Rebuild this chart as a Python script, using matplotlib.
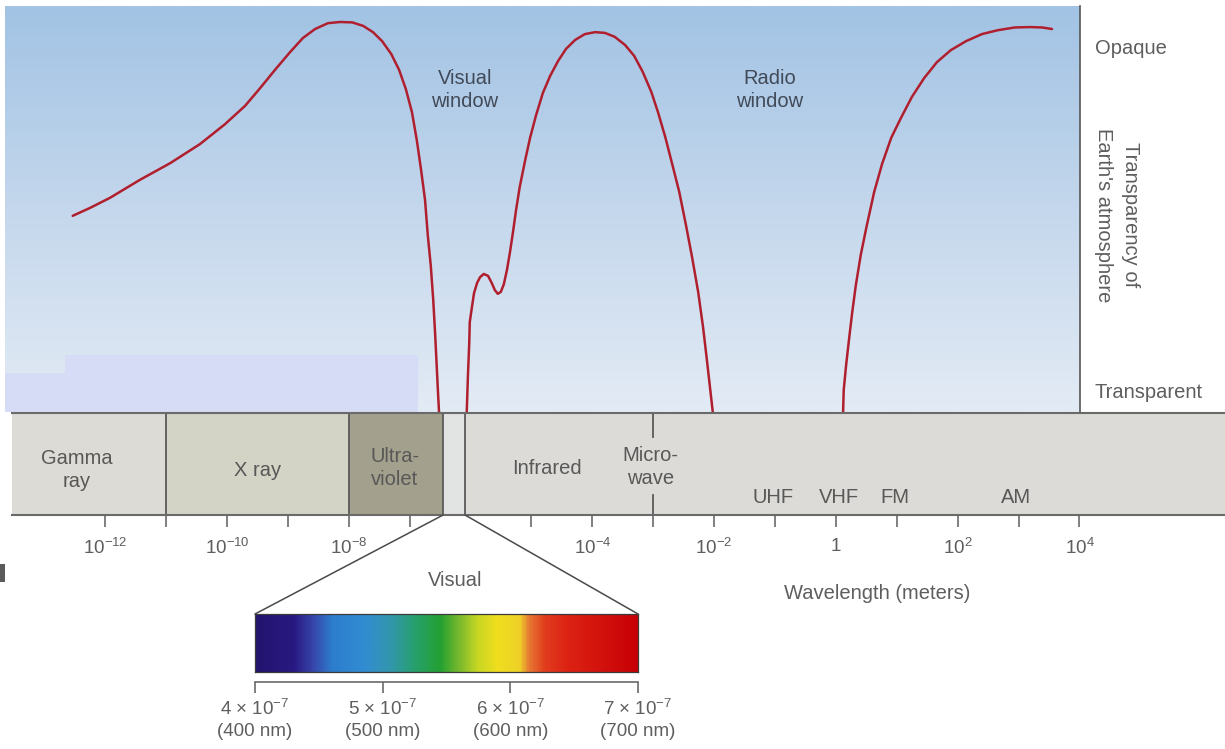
import numpy as np
import matplotlib
matplotlib.use('Agg')
import matplotlib.pyplot as plt
from matplotlib.colors import LinearSegmentedColormap
from matplotlib.patches import ConnectionPatch, Rectangle

plt.rcParams['font.family'] = ['Liberation Sans', 'DejaVu Sans']
plt.rcParams['mathtext.fontset'] = 'custom'
plt.rcParams['mathtext.rm'] = 'Liberation Sans'
plt.rcParams['mathtext.it'] = 'Liberation Sans:italic'
plt.rcParams['mathtext.bf'] = 'Liberation Sans:bold'

# Opacity of the atmosphere (1 = opaque, 0 = transparent) vs log10(wavelength / m)
# gamma / x ray / UV part
short_logw = [-12.53, -12.25, -11.92, -11.43, -10.93, -10.44, -10.03, -9.70, -9.45, -9.21,
              -8.96, -8.75, -8.55, -8.34, -8.14, -7.94, -7.76, -7.60, -7.45, -7.30,
              -7.17, -7.06, -6.96, -6.88, -6.81, -6.745, -6.70, -6.65, -6.61, -6.58,
              -6.55, -6.53, -6.515]
short_opac = [0.503, 0.523, 0.549, 0.595, 0.638, 0.687, 0.738, 0.785, 0.831, 0.877,
              0.923, 0.959, 0.982, 0.997, 1.000, 0.999, 0.990, 0.974, 0.951, 0.918,
              0.877, 0.828, 0.769, 0.697, 0.621, 0.544, 0.454, 0.374, 0.287, 0.203,
              0.108, 0.044, 0.0]
# infrared / microwave part
ir_logw = [-6.06, -6.04, -6.02, -6.01, -5.97, -5.94, -5.89, -5.84, -5.78, -5.71,
           -5.65, -5.60, -5.55, -5.50, -5.45, -5.40, -5.35, -5.30, -5.25, -5.19,
           -5.10, -5.02, -4.92, -4.81, -4.69, -4.56, -4.43, -4.28, -4.12, -3.95,
           -3.79, -3.63, -3.46, -3.31, -3.17, -3.03, -2.92, -2.80, -2.69, -2.57,
           -2.46, -2.36, -2.26, -2.18, -2.12, -2.07, -2.02]
ir_opac = [0.0, 0.095, 0.172, 0.231, 0.274, 0.305, 0.331, 0.346, 0.354, 0.349,
           0.331, 0.313, 0.303, 0.308, 0.328, 0.364, 0.410, 0.462, 0.518, 0.577,
           0.646, 0.703, 0.762, 0.818, 0.862, 0.900, 0.931, 0.954, 0.969, 0.974,
           0.972, 0.962, 0.941, 0.913, 0.872, 0.821, 0.769, 0.705, 0.638, 0.564,
           0.479, 0.397, 0.308, 0.218, 0.138, 0.069, 0.0]
# long radio part
radio_logw = [0.12, 0.13, 0.17, 0.22, 0.27, 0.33, 0.41, 0.51, 0.63, 0.76,
              0.91, 1.07, 1.25, 1.45, 1.66, 1.89, 2.14, 2.40, 2.66, 2.94,
              3.19, 3.39, 3.55]
radio_opac = [0.0, 0.056, 0.121, 0.190, 0.256, 0.326, 0.403, 0.479, 0.564, 0.636,
              0.703, 0.754, 0.808, 0.856, 0.897, 0.928, 0.951, 0.969, 0.979, 0.986,
              0.987, 0.986, 0.982]

# Spectrum bands (log10 wavelength edges) and their labels
band_edges = [-13.53, -11.0, -8.0, -6.45, -6.09, 6.39]
band_colors = ['#dddbd5', '#d3d3c6', '#a3a18d', '#e2e4e4', '#dcdbd7']
band_names = ['Gamma\nray', 'X ray', 'Ultra-\nviolet', 'Infrared', 'Micro-\nwave']
band_name_x = [-12.46, -9.50, -7.24, -4.74, -3.05]
band_name_y = [0.44, 0.44, 0.46, 0.46, 0.47]
radio_names = ['UHF', 'VHF', 'FM', 'AM']
radio_name_x = [-1.03, 0.05, 0.97, 2.96]

tick_exps = [-12, -11, -10, -9, -8, -7, -5, -4, -3, -2, -1, 0, 1, 2, 3, 4]
label_exps = [-12, -10, -8, -4, -2, 0, 2, 4]

# visible spectrum colour stops (nm)
spec_nm = [400, 430, 445, 460, 485, 505, 525, 545, 560, 575, 590, 608, 615, 628, 645, 700]
spec_rgb = [(35, 20, 110), (40, 25, 130), (55, 70, 170), (45, 125, 205), (50, 140, 210),
            (50, 150, 175), (40, 160, 110), (35, 160, 50), (120, 185, 45), (200, 215, 35),
            (240, 222, 30), (238, 210, 40), (230, 120, 50), (225, 60, 30), (220, 35, 20),
            (200, 0, 5)]
spec_ticks = [400, 500, 600, 700]
spec_labels = ['4 × 10$^{-7}$\n(400 nm)', '5 × 10$^{-7}$\n(500 nm)',
               '6 × 10$^{-7}$\n(600 nm)', '7 × 10$^{-7}$\n(700 nm)']

W, H = 1225, 749
fig = plt.figure(figsize=(W / 100, H / 100), dpi=100)
fig.patch.set_facecolor('white')

text_gray = '#5e5e5e'
line_gray = '#6a6a6a'

# ---- top panel: transparency of atmosphere
ax = fig.add_axes([5 / W, (H - 412) / H, 1075 / W, 406 / H])
x0, x1 = -13.642, 4.010
y1 = 406 / 390
ax.set_xlim(x0, x1)
ax.set_ylim(0, y1)
sky = LinearSegmentedColormap.from_list('sky', ['#e3ebf5', '#c4d7ec', '#a2c3e4'])
ax.imshow(np.linspace(0, 1, 256).reshape(-1, 1), cmap=sky, origin='lower',
          extent=[x0, x1, 0, y1], aspect='auto', zorder=0)
ax.add_patch(Rectangle((-12.66, 0), 5.80, 0.146, color='#d6dcf5', lw=0, zorder=1))
ax.add_patch(Rectangle((x0, 0), 1.10, 0.10, color='#d6dcf5', lw=0, zorder=1))

red = '#b01f2e'
for xs, ys in [(short_logw, short_opac), (ir_logw, ir_opac), (radio_logw, radio_opac)]:
    ax.plot(xs, ys, color=red, lw=1.8, zorder=3, solid_capstyle='round',
            solid_joinstyle='round')

for s in ['top', 'left', 'bottom']:
    ax.spines[s].set_visible(False)
ax.spines['right'].set_color('#555555')
ax.spines['right'].set_linewidth(1.2)
ax.set_xticks([])
ax.set_yticks([])

ax.text(-6.09, 0.826, 'Visual\nwindow', ha='center', va='center', fontsize=14.5,
        color='#414a58', linespacing=1.3)
ax.text(-1.08, 0.826, 'Radio\nwindow', ha='center', va='center', fontsize=14.5,
        color='#414a58', linespacing=1.3)
ax.text(4.256, 0.933, 'Opaque', ha='left', va='center', fontsize=14.5,
        color=text_gray, clip_on=False)
ax.text(4.256, 0.051, 'Transparent', ha='left', va='center', fontsize=14.5,
        color=text_gray, clip_on=False)
ax.text(4.62, 0.505, "Transparency of\nEarth's atmosphere", ha='center', va='center',
        rotation=270, fontsize=14.5, color=text_gray, clip_on=False, linespacing=1.55)

# ---- band strip with wavelength axis
axb = fig.add_axes([12 / W, (H - 515) / H, (W - 12) / W, 102 / H])
axb.set_xlim(band_edges[0], band_edges[-1])
axb.set_ylim(0, 1)
for lo, hi, c in zip(band_edges[:-1], band_edges[1:], band_colors):
    axb.axvspan(lo, hi, color=c, lw=0, zorder=0)
for e in band_edges[1:-1]:
    axb.axvline(e, color='#5a5a5a', lw=1.3, zorder=2)
axb.axvline(-3, ymin=0.765, ymax=1, color='#5a5a5a', lw=1.3, zorder=2)
axb.axvline(-3, ymin=0, ymax=0.196, color='#5a5a5a', lw=1.3, zorder=2)

for s in ['left', 'right']:
    axb.spines[s].set_visible(False)
for s in ['top', 'bottom']:
    axb.spines[s].set_color(line_gray)
    axb.spines[s].set_linewidth(1.5)
axb.set_yticks([])
axb.set_xticks(tick_exps)
axb.set_xticklabels(['' if e not in label_exps else ('1' if e == 0 else '$10^{%d}$' % e)
                     for e in tick_exps])
axb.tick_params(axis='x', direction='out', length=8.5, width=1.2, color=line_gray,
                labelcolor=text_gray, labelsize=13.5, pad=8)

for name, x, y in zip(band_names, band_name_x, band_name_y):
    axb.text(x, y, name, ha='center', va='center', fontsize=14.5, color='#585858',
             linespacing=1.25)
for name, x in zip(radio_names, radio_name_x):
    axb.text(x, 0.167, name, ha='center', va='center', fontsize=14.5, color='#585858')
axb.text(0.676, -0.765, 'Wavelength (meters)', transform=axb.get_xaxis_transform(),
         ha='center', va='center', fontsize=14.5, color=text_gray, clip_on=False)

# ---- visible spectrum close-up
spec = fig.add_axes([255 / W, (H - 672) / H, 383 / W, 58 / H])
spec_cmap = LinearSegmentedColormap.from_list(
    'vis', [((n - 400) / 300, tuple(v / 255 for v in c)) for n, c in zip(spec_nm, spec_rgb)])
spec.imshow(np.linspace(400, 700, 400).reshape(1, -1), cmap=spec_cmap, vmin=400, vmax=700,
            extent=[400, 700, 0, 1], aspect='auto')
spec.set_xlim(400, 700)
spec.set_ylim(0, 1)
spec.set_xticks([])
spec.set_yticks([])
for s in spec.spines.values():
    s.set_color('#3a3a3a')
    s.set_linewidth(0.9)

brk = spec.secondary_xaxis(-10 / 58)
brk.set_xticks(spec_ticks)
brk.set_xticklabels(spec_labels)
brk.spines['bottom'].set_color(line_gray)
brk.spines['bottom'].set_linewidth(1.2)
brk.tick_params(axis='x', direction='out', length=8, width=1.2, color=line_gray,
                labelcolor=text_gray, labelsize=13.5, pad=4)
for lbl in brk.get_xticklabels():
    lbl.set_linespacing(1.35)

spec.text(557, 1.586, 'Visual', transform=spec.get_xaxis_transform(), ha='center',
          va='center', fontsize=14.5, color=text_gray, clip_on=False)

for xa, xb in [(band_edges[3], 400), (band_edges[4], 700)]:
    con = ConnectionPatch(xyA=(xa, 0), coordsA=axb.get_xaxis_transform(),
                          xyB=(xb, 1), coordsB=spec.get_xaxis_transform(),
                          color='#4a4a4a', lw=1.1)
    fig.add_artist(con)

fig.patches.append(Rectangle((0, (H - 582) / H), 5 / W, 18 / H, transform=fig.transFigure,
                             color='#5a5a5a', lw=0))

fig.savefig('out.png', dpi=100)
